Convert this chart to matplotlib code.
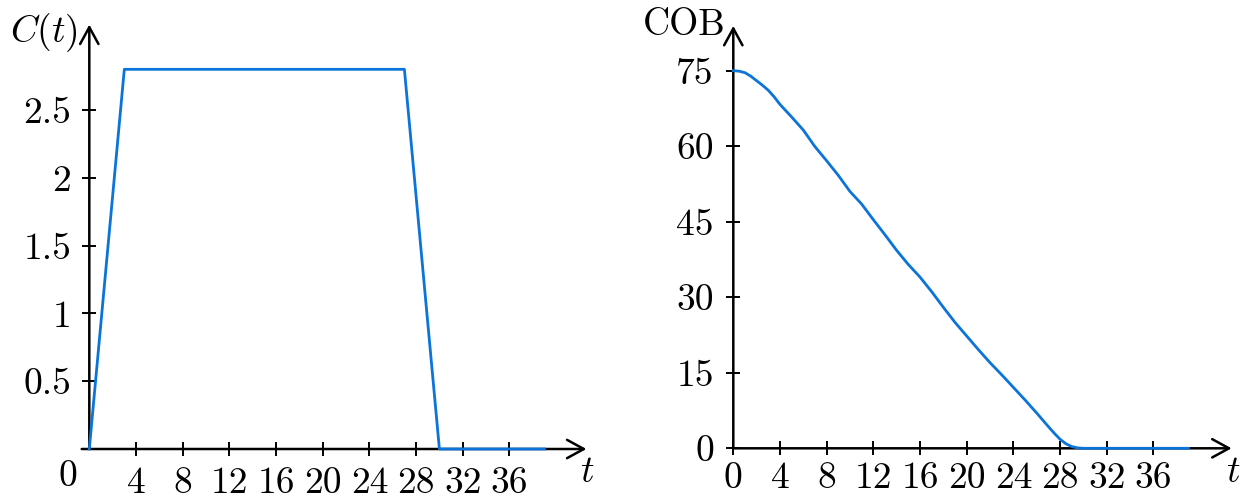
import matplotlib
matplotlib.use('Agg')
import matplotlib.pyplot as plt

plt.rcParams['font.family'] = 'serif'
plt.rcParams['font.serif'] = ['cmr10']
plt.rcParams['mathtext.fontset'] = 'cm'
plt.rcParams['axes.unicode_minus'] = False

# left panel: C(t)
c_t = [0, 3, 27, 30, 39]
c_val = [0, 2.8, 2.8, 0, 0]
c_xticks = [4, 8, 12, 16, 20, 24, 28, 32, 36]
c_yticks = [0.5, 1, 1.5, 2, 2.5]
c_yticklabels = ['0.5', '1', '1.5', '2', '2.5']

# right panel: COB
cob_t = [0, 0.5, 1, 1.5, 2, 2.5, 3, 3.5, 4, 5, 6, 7, 8, 9,
         10, 11, 12, 13, 14, 15, 16, 17, 18, 19,
         20, 21, 22, 23, 24, 25, 26, 27, 27.5, 28, 28.5, 29, 29.5,
         30, 31, 32, 33, 34, 35, 36, 37, 38, 39]
cob_val = [75, 74.9, 74.6, 73.9, 73.0, 72.1, 71.1, 69.8, 68.3, 65.8, 63.2, 59.9, 57.1, 54.2,
           51.0, 48.5, 45.4, 42.4, 39.3, 36.5, 34.0, 31.1, 28.0, 25.0,
           22.3, 19.6, 17.0, 14.6, 12.1, 9.6, 7.0, 4.3, 3.0, 1.8, 0.9, 0.35, 0.08,
           0, 0, 0, 0, 0, 0, 0, 0, 0, 0]
cob_xticks = [0, 4, 8, 12, 16, 20, 24, 28, 32, 36]
cob_yticks = [0, 15, 30, 45, 60, 75]

BLUE = '#0b74d8'
FS = 27
W, H = 1248, 497
fig = plt.figure(figsize=(W / 100, H / 100), dpi=100)


def px_axes(left, right, top, bottom):
    return fig.add_axes([left / W, 1 - bottom / H, (right - left) / W, (bottom - top) / H])


def setup(ax, xlim, ylim, x0, xend, yend):
    ax.set_xlim(*xlim)
    ax.set_ylim(*ylim)
    for s in ax.spines.values():
        s.set_visible(False)
    ax.spines['bottom'].set_position(('data', 0))
    ax.spines['left'].set_position(('data', 0))
    arrow = dict(arrowstyle='->,head_length=0.55,head_width=0.3', lw=1.8,
                 color='black', shrinkA=0, shrinkB=0, mutation_scale=22)
    ax.annotate('', xy=(xend, 0), xytext=(x0, 0), arrowprops=arrow,
                annotation_clip=False)
    ax.annotate('', xy=(0, yend), xytext=(0, 0), arrowprops=arrow,
                annotation_clip=False)
    ax.tick_params(direction='inout', length=10, width=1.4, labelsize=FS)
    ax.patch.set_visible(False)


# left axes: x=0 at px 89.3, 11.67 px/unit; y=0 at px 449, 135.6 px/unit
ax1 = px_axes(89.3 - 2 * 11.67, 89.3 + 44 * 11.67, 449 - 3.3 * 135.6, 449 + 0.3 * 135.6)
setup(ax1, (-2, 44), (-0.3, 3.3), -0.65, 42.6, 3.13)
ax1.plot(c_t, c_val, color=BLUE, lw=2.0, zorder=3, clip_on=False)
ax1.set_xticks(c_xticks)
ax1.set_xticklabels([str(v) for v in c_xticks])
ax1.set_yticks(c_yticks)
ax1.set_yticklabels(c_yticklabels)
ax1.tick_params(axis='x', pad=7.5)
ax1.tick_params(axis='y', pad=8)
ax1.text(-1.83, -0.2, '0', fontsize=FS, ha='center', va='center')
ax1.text(-0.95, 3.07, r'$C(t)$', fontsize=FS, ha='right', va='center')
ax1.text(42.7, -0.17, r'$t$', fontsize=FS, ha='center', va='center')

# right axes: x=0 at px 733.3, 11.67 px/unit; y=0 at px 448.3, 5.035 px/unit
ax2 = px_axes(733.3 - 2 * 11.67, 733.3 + 44 * 11.67, 448.3 - 88 * 5.035, 448.3 + 8 * 5.035)
setup(ax2, (-2, 44), (-8, 88), 0, 42.7, 83.9)
ax2.plot(cob_t, cob_val, color=BLUE, lw=2.0, zorder=3, clip_on=False)
ax2.set_xticks(cob_xticks)
ax2.set_xticklabels([str(v) for v in cob_xticks])
ax2.set_yticks(cob_yticks)
ax2.set_yticklabels([str(v) for v in cob_yticks])
ax2.tick_params(axis='x', pad=5)
ax2.tick_params(axis='y', pad=9)
ax2.text(-0.7, 84.0, 'COB', fontsize=FS, ha='right', va='center')
ax2.text(42.8, -4.7, r'$t$', fontsize=FS, ha='center', va='center')

fig.savefig('out.png', dpi=100)
